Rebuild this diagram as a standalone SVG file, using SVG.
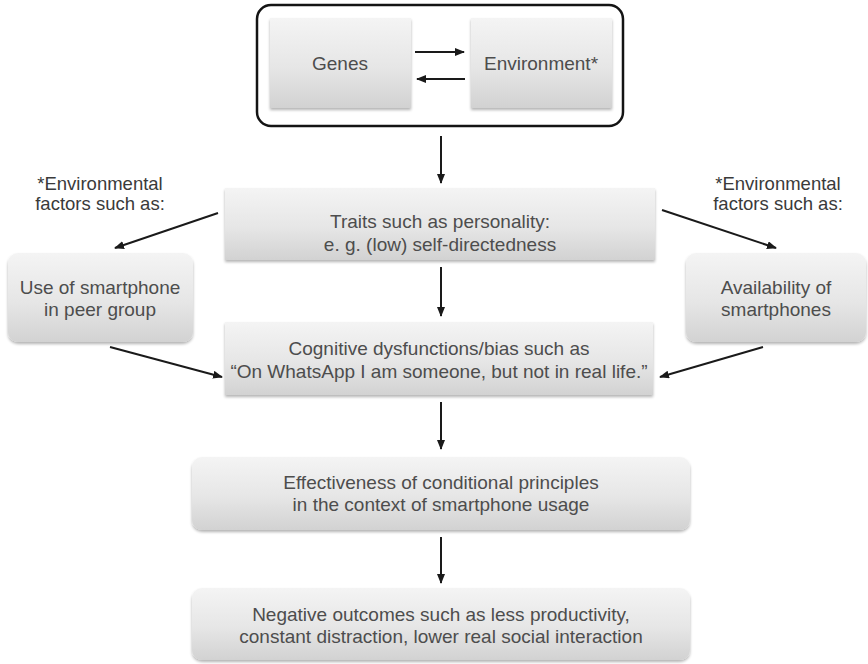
<svg xmlns="http://www.w3.org/2000/svg" width="868" height="664" viewBox="0 0 868 664">
  <style>
    .box { fill: url(#grey); filter: url(#shadow); }
    .label { font-family: "Liberation Sans", Arial, sans-serif; font-size: 19px; fill: #4d4d4d; text-anchor: middle; }
    .note { font-family: "Liberation Sans", Arial, sans-serif; font-size: 18.5px; fill: #3a3a3a; text-anchor: middle; }
    .edge { stroke: #1a1a1a; stroke-width: 2; fill: none; marker-end: url(#head); }
  </style>
  <defs>
    <linearGradient id="grey" x1="0" y1="0" x2="0" y2="1">
      <stop offset="0" stop-color="#f4f4f4"/>
      <stop offset="0.55" stop-color="#e6e6e6"/>
      <stop offset="1" stop-color="#d2d2d2"/>
    </linearGradient>
    <filter id="shadow" x="-5%" y="-10%" width="110%" height="130%">
      <feGaussianBlur in="SourceAlpha" stdDeviation="1.6"/>
      <feOffset dx="0" dy="2" result="blur"/>
      <feComponentTransfer><feFuncA type="linear" slope="0.3"/></feComponentTransfer>
      <feMerge><feMergeNode/><feMergeNode in="SourceGraphic"/></feMerge>
    </filter>
    <marker id="head" markerWidth="11" markerHeight="10" refX="9" refY="4" orient="auto" markerUnits="userSpaceOnUse">
      <path d="M0,0 L10,4 L0,8 Z" fill="#1a1a1a"/>
    </marker>
  </defs>

  <rect width="868" height="664" fill="#ffffff"/>

  <!-- gene–environment frame -->
  <g id="gene-environment">
    <rect x="257" y="5" width="366" height="121" rx="14" fill="#ffffff" stroke="#141414" stroke-width="2.5"/>
  </g>
  <g id="genes">
    <rect class="box" x="270" y="18" width="141" height="90"/>
    <text class="label" x="340" y="70">Genes</text>
  </g>
  <g id="environment">
    <rect class="box" x="471" y="18" width="141" height="90"/>
    <text class="label" x="541" y="70">Environment*</text>
  </g>

  <!-- footnotes -->
  <g id="note-left">
    <text class="note" x="100" y="190">*Environmental</text>
    <text class="note" x="100" y="210">factors such as:</text>
  </g>
  <g id="note-right">
    <text class="note" x="778" y="190">*Environmental</text>
    <text class="note" x="778" y="210">factors such as:</text>
  </g>

  <g id="traits">
    <rect class="box" x="225" y="188" width="430" height="72"/>
    <text class="label" x="440" y="228">Traits such as personality:</text>
    <text class="label" x="440" y="251">e. g. (low) self-directedness</text>
  </g>
  <g id="peer-group">
    <rect class="box" x="8" y="253" width="185" height="89" rx="10"/>
    <text class="label" x="100" y="294">Use of smartphone</text>
    <text class="label" x="100" y="316">in peer group</text>
  </g>
  <g id="availability">
    <rect class="box" x="686" y="253" width="180" height="89" rx="10"/>
    <text class="label" x="776" y="294">Availability of</text>
    <text class="label" x="776" y="316">smartphones</text>
  </g>
  <g id="cognitive">
    <rect class="box" x="225" y="322" width="428" height="73"/>
    <text class="label" x="439" y="355">Cognitive dysfunctions/bias such as</text>
    <text class="label" x="439" y="378">“On WhatsApp I am someone, but not in real life.”</text>
  </g>
  <g id="conditioning">
    <rect class="box" x="192" y="457" width="498" height="73" rx="10"/>
    <text class="label" x="441" y="489">Effectiveness of conditional principles</text>
    <text class="label" x="441" y="511">in the context of smartphone usage</text>
  </g>
  <g id="outcomes">
    <rect class="box" x="192" y="588" width="498" height="72" rx="10"/>
    <text class="label" x="441" y="621">Negative outcomes such as less productivity,</text>
    <text class="label" x="441" y="643">constant distraction, lower real social interaction</text>
  </g>

  <g id="connectors">
    <line class="edge" x1="415" y1="52" x2="464" y2="52"/>
    <line class="edge" x1="465" y1="79" x2="417" y2="79"/>
    <line class="edge" x1="441" y1="136" x2="441" y2="183"/>
    <line class="edge" x1="218" y1="213" x2="115" y2="248"/>
    <line class="edge" x1="662" y1="210" x2="776" y2="248"/>
    <line class="edge" x1="441" y1="267" x2="441" y2="316"/>
    <line class="edge" x1="110" y1="347" x2="222" y2="377"/>
    <line class="edge" x1="763" y1="347" x2="660" y2="377"/>
    <line class="edge" x1="441" y1="402" x2="441" y2="449"/>
    <line class="edge" x1="441" y1="537" x2="441" y2="583"/>
  </g>
</svg>
